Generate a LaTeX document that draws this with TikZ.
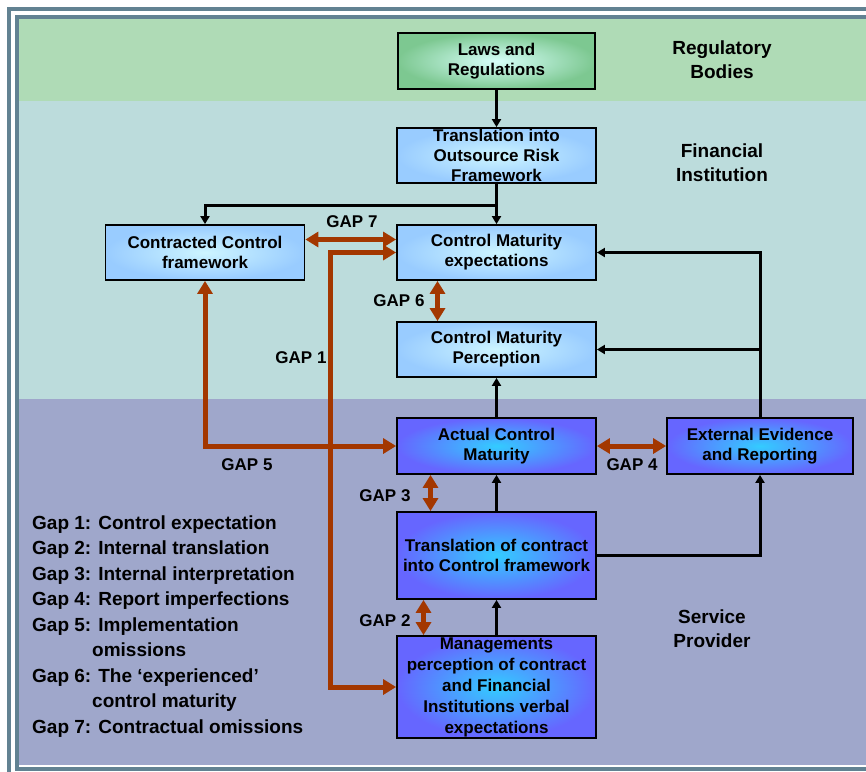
\documentclass[tikz,border=0pt]{standalone}
\usepackage{fontspec}
\setmainfont{Liberation Sans}
\usetikzlibrary{arrows.meta,calc}

\definecolor{framec}{RGB}{98,130,146}
\definecolor{regband}{RGB}{175,219,182}
\definecolor{finband}{RGB}{188,220,220}
\definecolor{svcband}{RGB}{159,167,203}
\definecolor{gapc}{RGB}{163,55,0}
\definecolor{lawin}{RGB}{215,255,250}
\definecolor{lawout}{RGB}{125,200,145}
\definecolor{fiin}{RGB}{205,245,255}
\definecolor{fiout}{RGB}{153,204,255}
\definecolor{spin}{RGB}{51,204,255}
\definecolor{spout}{RGB}{102,102,255}

\begin{document}
\begin{tikzpicture}[x=1pt,y=-1pt,
  box/.style={draw=black, line width=1.8pt, rectangle, inner sep=0pt, align=center,
    minimum width=199pt, minimum height=55pt, font=\fontsize{17}{20}\selectfont\bfseries},
  regbox/.style={box, inner color=lawin, outer color=lawout},
  finbox/.style={box, inner color=fiin, outer color=fiout},
  svcbox/.style={box, inner color=spin, outer color=spout},
  flow/.style={draw=black, line width=3pt, -{Triangle[width=9pt,length=8pt]}},
  gap/.style={draw=gapc, line width=5pt,
    {Triangle[width=15pt,length=13pt]}-{Triangle[width=15pt,length=13pt]}},
  gaplabel/.style={font=\fontsize{17}{20}\selectfont\bfseries, inner sep=0pt},
  zonelabel/.style={font=\fontsize{19}{24}\selectfont\bfseries, align=center, inner sep=0pt},
  legend/.style={font=\fontsize{19}{24}\selectfont\bfseries, anchor=base west, inner sep=0pt},
]
\useasboundingbox (0,0) rectangle (866,771);
\fill[white] (0,0) rectangle (866,771);

% zone bands
\fill[regband] (19,19) rectangle (866,101);
\fill[finband] (19,101) rectangle (866,399);
\fill[svcband] (19,399) rectangle (866,765);

% double frame
\draw[framec, line width=4pt] (9,9) rectangle (880,800);
\draw[framec, line width=4pt] (17,17) rectangle (880,769);

% boxes
\node[regbox, minimum width=197pt, minimum height=56pt] (laws) at (496.5,61) {Laws and\\Regulations};
\node[finbox] (tor) at (496.5,155.5) {Translation into\\Outsource Risk\\Framework};
\node[finbox] (ccf) at (205,252.5) {Contracted Control\\framework};
\node[finbox] (cme) at (496.5,252.5) {Control Maturity\\expectations};
\node[finbox] (cmp) at (496.5,349.5) {Control Maturity\\Perception};
\node[svcbox, minimum height=56pt] (acm) at (496.5,446) {Actual Control\\Maturity};
\node[svcbox, minimum width=186pt, minimum height=56pt] (eer) at (760,446) {External Evidence\\and Reporting};
\node[svcbox, minimum height=87pt] (tcc) at (496.5,555.5) {Translation of contract\\into Control framework};
\node[svcbox, minimum height=102pt, font=\fontsize{17}{21}\selectfont\bfseries] (mgp) at (496.5,687)
  {Managements\\perception of contract\\and Financial\\Institutions verbal\\expectations};

% black flow connectors
\coordinate (split) at ($(tor.south)+(0,22)$);
\draw[flow] (laws.south) -- (tor.north);
\draw[flow] (tor.south) -- (cme.north);
\draw[flow] (split) -| (ccf.north);
\draw[flow] (eer.north) |- (cme.east);
\draw[flow] (eer.north |- cmp.east) -- (cmp.east);
\draw[flow] (acm.north) -- (cmp.south);
\draw[flow] (tcc.north) -- (acm.south);
\draw[flow] (mgp.north) -- (tcc.south);
\draw[flow] (tcc.east) -| (eer.south);

% gap arrows
\coordinate (g1) at (330,0);
\draw[gap] ($(ccf.east)+(0,-13)$) -- ($(cme.west)+(0,-13)$);
\draw[gap] (cme.west) -- (g1 |- cme.west) -- (g1 |- mgp.west) -- (mgp.west);
\draw[gap] (ccf.south) |- (acm.west);
\draw[gap] ($(cme.south)+(-59,0)$) -- ($(cmp.north)+(-59,0)$);
\draw[gap] ($(acm.south)+(-66,0)$) -- ($(tcc.north)+(-66,0)$);
\draw[gap] ($(tcc.south)+(-73,0)$) -- ($(mgp.north)+(-73,0)$);
\draw[gap] (acm.east) -- (eer.west);

% gap labels
\node[gaplabel] (l7) at (352,222) {GAP 7};
\node[gaplabel] (l6) at (399,301) {GAP 6};
\node[gaplabel] (l1) at (301,358) {GAP 1};
\node[gaplabel] (l5) at (247,465) {GAP 5};
\node[gaplabel] (l4) at (632,465) {GAP 4};
\node[gaplabel] (l3) at (385,496) {GAP 3};
\node[gaplabel] (l2) at (385,621) {GAP 2};

% zone labels
\node[zonelabel] (zreg) at (722,60) {Regulatory\\Bodies};
\node[zonelabel] (zfin) at (722,163) {Financial\\Institution};
\node[zonelabel] (zsvc) at (712,629) {Service\\Provider};

% legend
\node[legend] (leg1) at (32,529)   {Gap 1: Control expectation};
\node[legend] (leg2) at (32,554.5) {Gap 2: Internal translation};
\node[legend] (leg3) at (32,580)   {Gap 3: Internal interpretation};
\node[legend] (leg4) at (32,605.5) {Gap 4: Report imperfections};
\node[legend] (leg5) at (32,631)   {Gap 5: Implementation};
\node[legend] (leg5b) at (92,656.5) {omissions};
\node[legend] (leg6) at (32,682)   {Gap 6: The ‘experienced’};
\node[legend] (leg6b) at (92,707.5) {control maturity};
\node[legend] (leg7) at (32,733)   {Gap 7: Contractual omissions};
\end{tikzpicture}
\end{document}
